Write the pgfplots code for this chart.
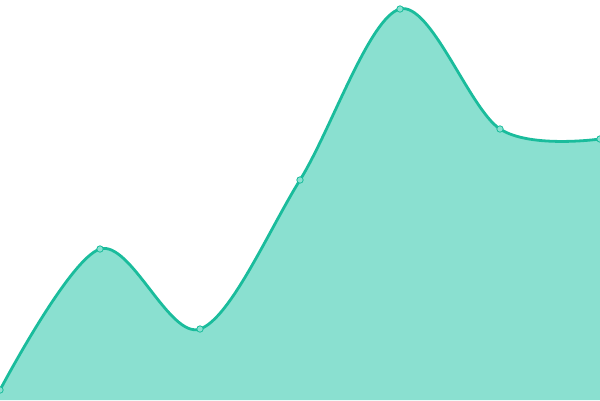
\documentclass[border=0pt]{standalone}
\usepackage{pgfplots}
\pgfplotsset{compat=1.18}
\definecolor{linec}{HTML}{1ABC9C}
\definecolor{fillc}{HTML}{8AE0D0}
\begin{document}
\begin{tikzpicture}
\begin{axis}[
  width=600bp, height=400bp,
  scale only axis,
  hide axis,
  xmin=0, xmax=600, ymin=0, ymax=400,
  clip=true,
]
\addplot[draw=none, fill=fillc, smooth, tension=0.55] coordinates {
(0,10) (100,151) (200,71) (300,220) (400,391) (500,271) (600,261)
} \closedcycle;
\addplot[linec, line width=2.8bp, smooth, tension=0.55,
  mark=*, mark size=3.2bp,
  mark options={fill=fillc, draw=linec, line width=0.8bp}] coordinates {
(0,10) (100,151) (200,71) (300,220) (400,391) (500,271) (600,261)
};
\end{axis}
\pgfresetboundingbox
\path (current axis.south west) rectangle (current axis.north east);
\end{tikzpicture}
\end{document}
